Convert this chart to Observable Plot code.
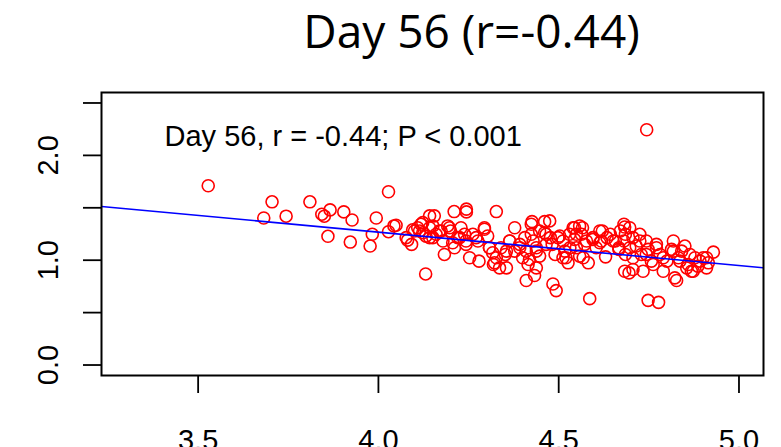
<!DOCTYPE html>
<html>
<head>
<meta charset="utf-8">
<script src="https://cdn.jsdelivr.net/npm/d3@7"></script>
<script src="https://cdn.jsdelivr.net/npm/@observablehq/plot@0.6"></script>
<style>
  html, body { margin: 0; padding: 0; background: #ffffff; }
  #chart { width: 781px; height: 447px; overflow: hidden; }
</style>
</head>
<body>
<div id="chart"></div>
<script>
const titleText = "Day 56 (r=-0.44)";
const annotationText = "Day 56, r = -0.44; P < 0.001";
const xTicks = [3.5, 4.0, 4.5, 5.0];
const yTicks = [0, 0.5, 1.0, 1.5, 2.0, 2.5];
const yLabelTicks = [0, 1.0, 2.0];
const xDomain = [3.232, 5.068];
const yDomain = [-0.1, 2.6];
const fitIntercept = 2.542;
const fitSlope = -0.3186;

const xVals = [
  3.528, 3.705, 3.682, 3.744, 3.810, 3.843, 3.850, 3.866, 3.860, 3.904,
  3.927, 3.922, 3.977, 3.983, 3.994, 4.028, 4.028, 4.043, 4.049, 4.081,
  4.092, 4.095, 4.109, 4.118, 4.123, 4.132, 4.131, 4.142, 4.744, 4.210,
  4.244, 4.244, 4.327, 4.155, 4.183, 4.253, 4.279, 4.586, 4.748, 4.777,
  4.484, 4.493, 4.410, 4.433, 4.336, 4.355, 4.319, 4.378, 4.426, 4.461,
  4.544, 4.566, 4.621, 4.683, 4.929, 4.827, 4.695, 4.630,
  4.100, 4.142, 4.151, 4.160, 4.174, 4.179, 4.192, 4.200, 4.206, 4.211,
  4.220, 4.229, 4.239, 4.243,
  4.262, 4.276, 4.294, 4.303, 4.308, 4.317, 4.322, 4.340, 4.352, 4.364,
  4.378, 4.392, 4.400, 4.410, 4.415, 4.424, 4.424, 4.429, 4.438, 4.438,
  4.447, 4.461, 4.465,
  4.475, 4.477, 4.482, 4.490, 4.503, 4.512, 4.517, 4.520, 4.526, 4.530,
  4.540, 4.544, 4.549, 4.558, 4.563, 4.568, 4.572, 4.582, 4.595, 4.604,
  4.614, 4.618, 4.634, 4.643, 4.657, 4.667, 4.671, 4.681, 4.681, 4.685,
  4.683,
  4.697, 4.706, 4.715, 4.725, 4.729, 4.734, 4.743, 4.748, 4.757, 4.771,
  4.781, 4.790, 4.800, 4.813, 4.818, 4.822, 4.832, 4.841, 4.850, 4.859,
  4.868, 4.878, 4.706,
  4.901, 4.910, 4.915, 4.886,
  4.077, 4.114, 4.123, 4.142, 4.151, 4.169, 4.197, 4.225, 4.243, 4.271,
  4.294, 4.308, 4.327, 4.355, 4.364, 4.392, 4.406, 4.419, 4.438, 4.447,
  4.465, 4.498, 4.512, 4.531, 4.549, 4.558, 4.577, 4.595, 4.614, 4.651,
  4.667, 4.685, 4.697, 4.706, 4.725, 4.743, 4.762, 4.771, 4.790, 4.818,
  4.836, 4.855, 4.864, 4.892, 4.910, 4.873
];
const yVals = [
  1.710, 1.557, 1.403, 1.420, 1.557, 1.439, 1.420, 1.480, 1.228, 1.461,
  1.384, 1.173, 1.135, 1.247, 1.403, 1.653, 1.272, 1.327, 1.333, 1.192,
  1.151, 1.290, 1.310, 1.343, 1.262, 1.230, 0.869, 1.423, 2.245, 1.464,
  1.487, 1.461, 1.464, 1.423, 1.055, 1.023, 0.991, 0.633, 0.617, 0.598,
  0.773, 0.710, 0.806, 0.854, 0.927, 0.927, 0.959, 1.310, 1.368, 1.368,
  1.310, 1.310, 1.279, 1.317, 1.077, 0.806, 0.879, 1.032,
  1.279, 1.215, 1.327, 1.247, 1.279, 1.183, 1.327, 1.279, 1.167, 1.119,
  1.215, 1.310, 1.247, 1.183,
  1.247, 1.183, 1.295, 1.231, 1.119, 1.071, 0.975, 1.119, 1.055, 1.183,
  1.087, 1.151, 1.023, 1.087, 0.959, 1.343, 1.247, 1.183, 1.119, 0.927,
  1.039, 1.262, 1.151,
  1.375, 1.215, 1.151, 1.055, 1.231, 1.183, 1.087, 1.023, 0.975, 1.247,
  1.310, 1.199, 1.119, 1.327, 1.247, 1.023, 1.151, 0.975, 1.199, 1.119,
  1.279, 1.183, 1.215, 1.247, 1.183, 1.103, 1.279, 1.343, 1.183, 1.055,
  0.895,
  1.310, 1.215, 1.135, 1.247, 1.055, 0.895, 1.183, 1.103, 0.991, 1.151,
  1.055, 0.895, 0.991, 1.103, 1.183, 0.831, 1.023, 1.087, 1.135, 0.959,
  0.895, 1.023, 0.911,
  1.023, 0.927, 0.975, 0.943,
  1.215, 1.279, 1.359, 1.310, 1.215, 1.279, 1.310, 1.215, 1.151, 1.215,
  1.310, 1.119, 1.023, 1.087, 1.183, 1.119, 1.215, 1.007, 1.087, 1.279,
  1.247, 1.215, 1.023, 1.119, 1.247, 1.039, 1.183, 1.215, 1.167, 1.183,
  1.119, 1.247, 1.119, 1.023, 1.183, 1.055, 0.959, 1.119, 1.023, 1.087,
  0.991, 0.927, 1.055, 0.991, 1.023, 0.895
];

const points = xVals.map((x, i) => ({x, y: yVals[i]}));
const fitLine = xDomain.map(x => ({x, y: fitIntercept + fitSlope * x}));

const chart = Plot.plot({
  width: 781,
  height: 447,
  marginLeft: 101,
  marginRight: 18,
  marginTop: 92,
  marginBottom: 72,
  style: {fontFamily: "'Liberation Sans', Arial, sans-serif", background: "#ffffff", color: "#000000"},
  x: {domain: xDomain},
  y: {domain: yDomain},
  marks: [
    Plot.dot(points, {x: "x", y: "y", r: 6, stroke: "#ff0000", strokeWidth: 1.6, fill: "none"}),
    Plot.line(fitLine, {x: "x", y: "y", stroke: "#0000ff", strokeWidth: 1.6, clip: true}),
    Plot.frame({stroke: "#000000", strokeWidth: 2}),
    Plot.axisX(xTicks, {tickSize: 18, tickPadding: 36, fontSize: 29, strokeWidth: 1.8, tickFormat: d => d.toFixed(1), label: null}),
    Plot.axisY(yTicks, {tickSize: 18, strokeWidth: 1.8, tickFormat: () => "", label: null}),
    Plot.text(yLabelTicks, {y: d => d, text: d => d.toFixed(1), frameAnchor: "left", dx: -44, rotate: -90, textAnchor: "middle", lineAnchor: "bottom", fontSize: 29}),
    Plot.text([annotationText], {text: d => d, frameAnchor: "top-left", dx: 63, dy: 53, textAnchor: "start", lineAnchor: "bottom", fontSize: 29}),
    Plot.text([titleText], {text: d => d, frameAnchor: "top", dx: 39, dy: -45, lineAnchor: "bottom", fontSize: 46, fontFamily: "'Open Sans', sans-serif"})
  ]
});
document.getElementById("chart").appendChild(chart);
</script>
</body>
</html>
